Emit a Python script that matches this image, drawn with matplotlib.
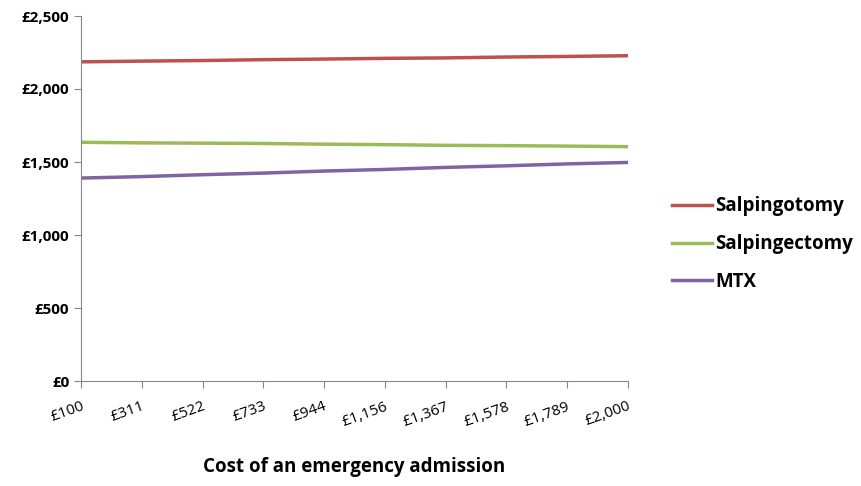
import matplotlib.pyplot as plt

plt.rcParams['font.family'] = ['Open Sans', 'DejaVu Sans']

# cost of an emergency admission (x categories)
costs = ['£100', '£311', '£522', '£733', '£944', '£1,156', '£1,367', '£1,578', '£1,789', '£2,000']
salpingotomy = [2186, 2191, 2195, 2201, 2205, 2210, 2213, 2219, 2223, 2228]
salpingectomy = [1635, 1631, 1629, 1627, 1622, 1619, 1614, 1612, 1609, 1605]
mtx = [1390, 1400, 1413, 1424, 1438, 1449, 1463, 1474, 1487, 1497]

fig = plt.figure(figsize=(8.62, 4.86), dpi=100)
ax = fig.add_axes([81 / 862, 1 - 381 / 486, (628 - 81) / 862, (381 - 16) / 486])

x = list(range(len(costs)))
ax.plot(x, salpingotomy, color='#C0504D', lw=2.5, label='Salpingotomy')
ax.plot(x, salpingectomy, color='#9BBB59', lw=2.5, label='Salpingectomy')
ax.plot(x, mtx, color='#8064A2', lw=2.5, label='MTX')

ax.set_xlim(0, len(costs) - 1)
ax.set_ylim(0, 2500)
ax.set_yticks([0, 500, 1000, 1500, 2000, 2500])
ax.set_yticklabels(['£0', '£500', '£1,000', '£1,500', '£2,000', '£2,500'],
                   fontweight='bold', fontsize=11)
ax.set_xticks(x)
ax.set_xticklabels(costs, rotation=20, fontsize=11, ha='right', rotation_mode='anchor')

for s in ['top', 'right']:
    ax.spines[s].set_visible(False)
for s in ['left', 'bottom']:
    ax.spines[s].set_color('#868686')
ax.tick_params(axis='both', color='#868686', length=5, direction='out')
ax.tick_params(axis='x', pad=8)

ax.set_xlabel('Cost of an emergency admission', fontsize=13.5, fontweight='bold', labelpad=20)

ax.legend(loc='center left', bbox_to_anchor=(1.05, 0.375), frameon=False,
          prop={'size': 13.5, 'weight': 'bold'}, handlelength=2.1,
          handletextpad=0.2, labelspacing=0.95)

fig.savefig('out.png', dpi=100)
